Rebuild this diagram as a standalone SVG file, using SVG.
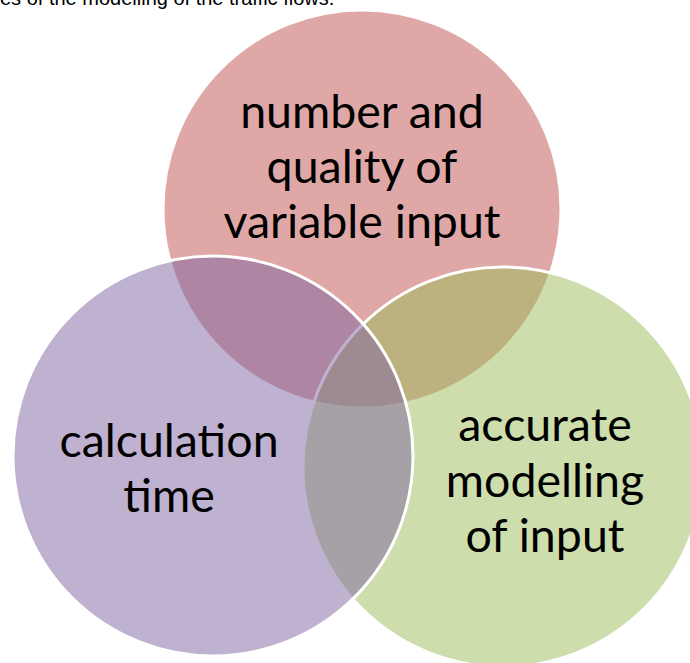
<svg xmlns="http://www.w3.org/2000/svg" width="690" height="663" viewBox="0 0 690 663">
  <style>
    .c { stroke: #ffffff; stroke-width: 3; fill-opacity: 0.5; }
    .lbl { font-family: "Lato", "Open Sans", "Liberation Sans", sans-serif; font-size: 46.5px; fill: #000000; text-anchor: middle; }
    .cap { font-family: "Liberation Sans", Arial, sans-serif; font-size: 20px; fill: #000000; }
  </style>
  <rect width="690" height="663" fill="#ffffff"/>
  <text class="cap" x="0" y="5">es of the modelling of the traffic flows.</text>
  <g id="node-input-quality">
    <circle class="c" cx="362" cy="209" r="199" fill="#C0504D"/>
  </g>
  <g id="node-accurate-modelling">
    <circle class="c" cx="503" cy="467" r="200" fill="#9BBB59"/>
  </g>
  <g id="node-calculation-time">
    <circle class="c" cx="213" cy="456" r="200" fill="#8064A2"/>
  </g>
  <g id="labels">
    <text class="lbl" x="362" y="128">number and</text>
    <text class="lbl" x="362" y="183">quality of</text>
    <text class="lbl" x="362" y="238">variable input</text>
    <text class="lbl" x="169" y="457">calculation</text>
    <text class="lbl" x="169" y="512">time</text>
    <text class="lbl" x="545" y="441">accurate</text>
    <text class="lbl" x="545" y="497">modelling</text>
    <text class="lbl" x="545" y="552">of input</text>
  </g>
</svg>
